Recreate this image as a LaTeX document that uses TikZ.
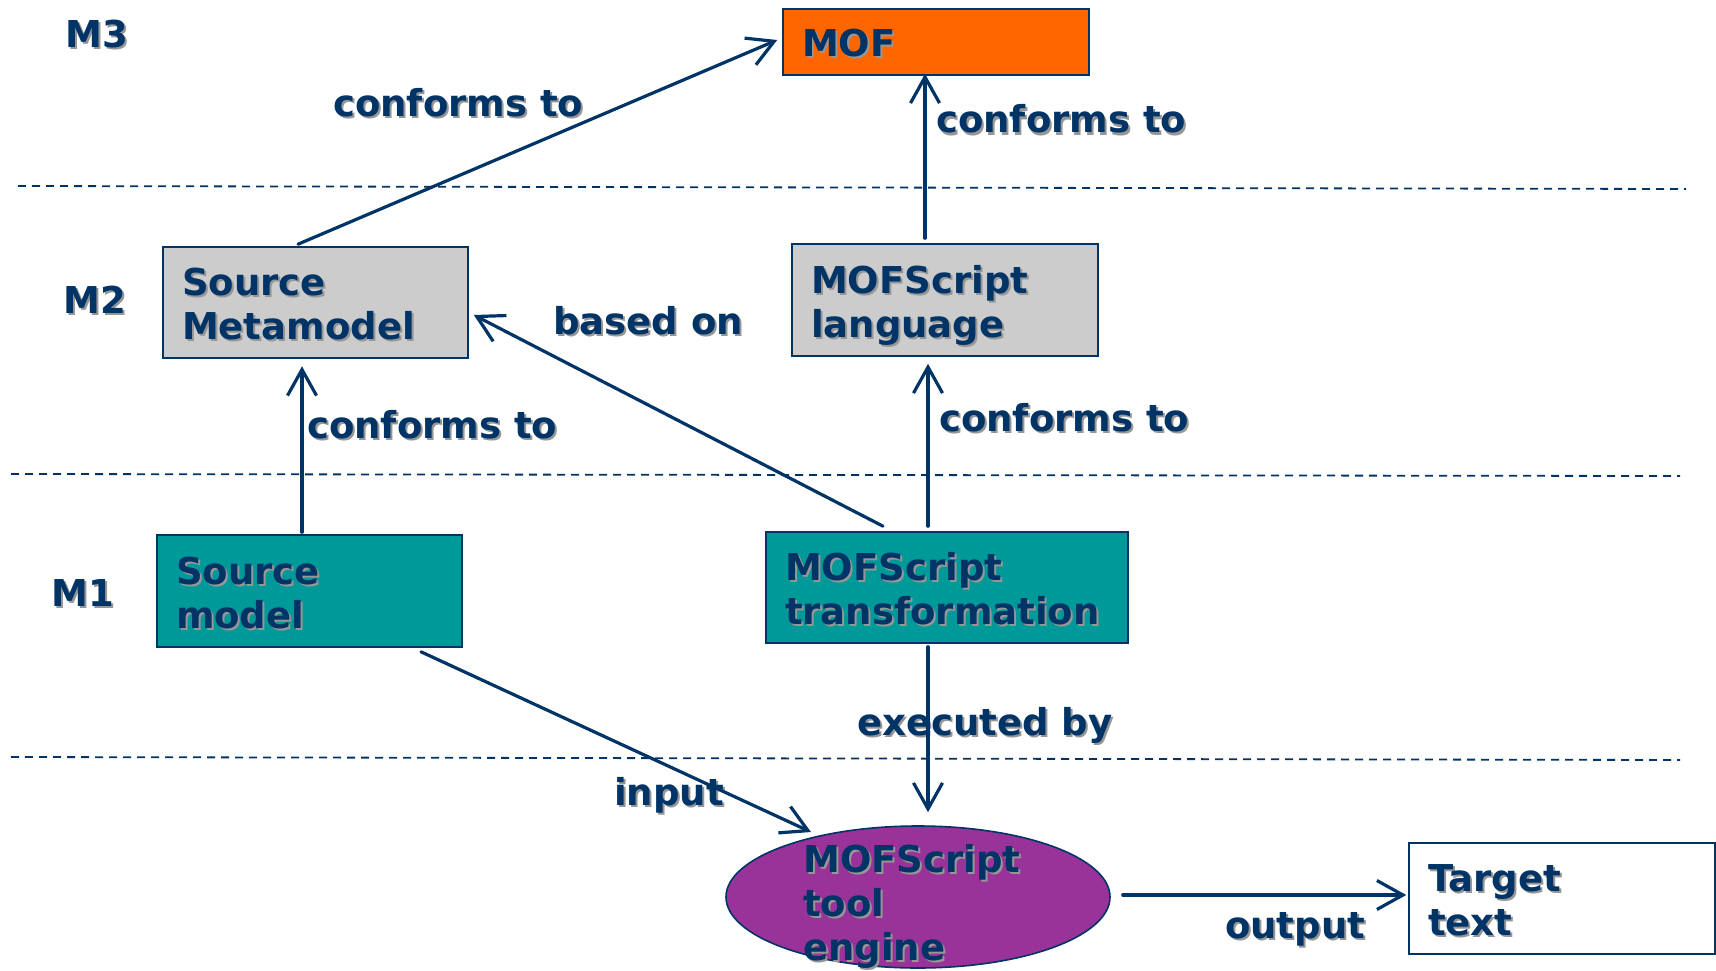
\documentclass[tikz,border=0pt]{standalone}
\usepackage{fontspec}
\setmainfont{DejaVu Sans}
\usetikzlibrary{arrows.meta,shapes.geometric}

\definecolor{navy}{HTML}{003366}
\definecolor{moforange}{HTML}{FF6600}
\definecolor{boxgray}{HTML}{CCCCCC}
\definecolor{tealbox}{HTML}{009999}
\definecolor{purplebox}{HTML}{993399}
\definecolor{shadowgray}{RGB}{150,150,150}

% one text line: fixed line metrics plus a soft drop shadow
\newcommand\lnstrut{\rule[-7pt]{0pt}{44pt}}
\newcommand\sh[1]{\lnstrut\smash{\rlap{\kern2pt\raisebox{-2pt}{\color{shadowgray}#1}}#1}}

\tikzset{
  txt/.style={font=\bfseries\fontsize{37pt}{44pt}\selectfont, text=navy},
  box/.style={txt, draw=navy, line width=1.6pt, rectangle, inner xsep=19pt,
              inner ysep=0pt, align=left, minimum height=111pt},
  lbl/.style={txt, inner sep=0pt, anchor=base west},
  conn/.style={draw=navy, line width=3.2pt, line cap=round,
               -{Straight Barb[length=26pt,width=29pt]}},
  layer/.style={draw=navy, line width=1.8pt, dash pattern=on 8pt off 6pt},
}

\begin{document}
\begin{tikzpicture}[x=1pt, y=-1pt]
\useasboundingbox (0,0) rectangle (1716,971);

% meta-level separators
\draw[layer] (18,186) -- (1686,189);
\draw[layer] (11,474) -- (1680,476);
\draw[layer] (11,757) -- (1680,760);

% level names
\node[lbl] (m3) at (65,48) {\sh{M3}};
\node[lbl] (m2) at (63,313) {\sh{M2}};
\node[lbl] (m1) at (51,606) {\sh{M1}};

% models
\node[box, fill=moforange, minimum width=306pt, text width=268pt, minimum height=66pt]
  (mof) at (936,42) {\sh{MOF}};
\node[box, fill=boxgray, minimum width=305pt, text width=267pt]
  (smm) at (315.5,302.5) {\sh{Source}\\\sh{Metamodel}};
\node[box, fill=boxgray, minimum width=306pt, text width=268pt, minimum height=112pt]
  (lang) at (945,300) {\sh{MOFScript}\\\sh{language}};
\node[box, fill=tealbox, minimum width=305pt, text width=267pt, minimum height=112pt]
  (src) at (309.5,591) {\sh{Source}\\\sh{model}};
\node[box, fill=tealbox, minimum width=362pt, text width=324pt]
  (trafo) at (947,587.5) {\sh{MOFScript}\\\sh{transformation}};
\node[box, fill=white, minimum width=306pt, text width=268pt]
  (tgt) at (1562,898.5) {\sh{Target}\\\sh{text}};
\node[ellipse, draw=navy, line width=1.6pt, fill=purplebox, minimum width=384pt,
      minimum height=142pt, inner sep=0pt] (eng) at (918,897) {};
\node[txt, inner sep=0pt, align=left, anchor=north west]
  (engtxt) at ([xshift=-115pt,yshift=62pt]eng.center) {\sh{MOFScript}\\\sh{tool}\\\sh{engine}};

% connector labels
\node[lbl] (lc1) at (333,117) {\sh{conforms to}};
\node[lbl] (lc2) at (936,133) {\sh{conforms to}};
\node[lbl] (lbo) at (553,334) {\sh{based on}};
\node[lbl] (lc3) at (307,438) {\sh{conforms to}};
\node[lbl] (lc4) at (939,431) {\sh{conforms to}};
\node[lbl] (lex) at (857,735) {\sh{executed by}};
\node[lbl] (lin) at (614,805) {\sh{input}};
\node[lbl] (lout) at (1225,938) {\sh{output}};

% connectors
\draw[conn] ([xshift=-17.5pt,yshift=2pt]smm.north) -- ([xshift=-5pt,yshift=2pt]mof.west);
\draw[conn] ([xshift=-20pt,yshift=5pt]lang.north) -- ([xshift=-11pt,yshift=2pt]mof.south);
\draw[conn] ([xshift=-64pt,yshift=5pt]trafo.north) -- ([xshift=5pt,yshift=-12.5pt]smm.east);
\draw[conn] ([xshift=-19pt,yshift=5pt]trafo.north) -- ([xshift=-17pt,yshift=-7pt]lang.south);
\draw[conn] ([xshift=-7.5pt,yshift=2pt]src.north) -- ([xshift=-13.5pt,yshift=-7.5pt]smm.south);
\draw[conn] ([xshift=-19pt,yshift=-3pt]trafo.south) -- ([xshift=10pt,yshift=13pt]eng.north);
\draw[conn] ([xshift=111.5pt,yshift=-4pt]src.south) -- ([xshift=-107pt,yshift=65pt]eng.center);
\draw[conn] ([xshift=12pt,yshift=2pt]eng.east) -- ([xshift=-2pt,yshift=3.5pt]tgt.west);
\end{tikzpicture}
\end{document}
